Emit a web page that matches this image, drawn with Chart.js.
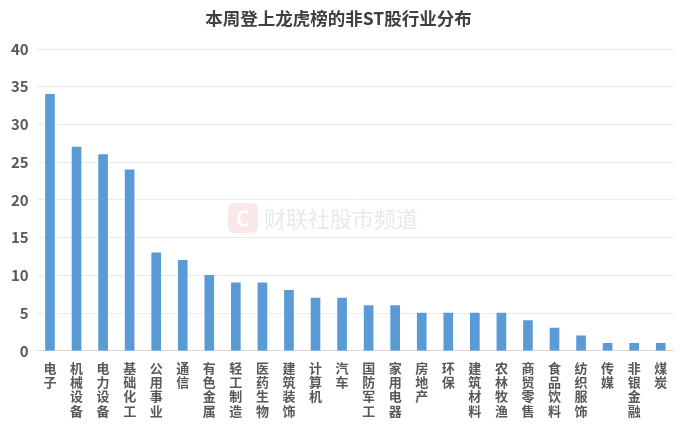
<!DOCTYPE html>
<html>
<head>
<meta charset="utf-8">
<script src="https://cdn.jsdelivr.net/npm/chart.js@4"></script>
<style>
  body { margin: 0; background: #fff; }
  #box { width: 692px; height: 430px; }
</style>
</head>
<body>
<div id="box"><canvas id="chart"></canvas></div>
<script>
const industries = ['电子', '机械设备', '电力设备', '基础化工', '公用事业', '通信', '有色金属', '轻工制造',
  '医药生物', '建筑装饰', '计算机', '汽车', '国防军工', '家用电器', '房地产', '环保',
  '建筑材料', '农林牧渔', '商贸零售', '食品饮料', '纺织服饰', '传媒', '非银金融', '煤炭'];
const counts = [34, 27, 26, 24, 13, 12, 10, 9, 9, 8, 7, 7, 6, 6, 5, 5, 5, 5, 4, 3, 2, 1, 1, 1];
const yTicks = [0, 5, 10, 15, 20, 25, 30, 35, 40];

const FONT = '"Noto Sans CJK SC", "Noto Sans", sans-serif';
const GREY = '#595959';

// faint watermark in the middle of the plot
const watermark = {
  id: 'watermark',
  beforeDatasetsDraw(chart) {
    const c = chart.ctx;
    c.save();
    c.fillStyle = 'rgba(230,120,120,0.18)';
    c.beginPath();
    c.roundRect(228, 203, 30, 30, 6);
    c.fill();
    c.fillStyle = 'rgba(255,255,255,0.9)';
    c.font = 'bold 22px ' + FONT;
    c.textAlign = 'center';
    c.textBaseline = 'middle';
    c.fillText('C', 243, 219);
    c.fillStyle = 'rgba(150,150,150,0.22)';
    c.font = '22px ' + FONT;
    c.textAlign = 'left';
    c.fillText('财联社股市频道', 264, 219);
    c.restore();
  }
};

new Chart(document.getElementById('chart'), {
  type: 'bar',
  data: {
    labels: industries.map(s => s.split('')),
    datasets: [{
      data: counts,
      backgroundColor: '#5B9BD5',
      barThickness: 9
    }]
  },
  plugins: [watermark],
  options: {
    responsive: true,
    maintainAspectRatio: false,
    animation: false,
    layout: { padding: { left: 3, right: 18, top: 0, bottom: 10 } },
    plugins: {
      legend: { display: false },
      tooltip: { enabled: false },
      title: {
        display: true,
        text: '本周登上龙虎榜的非ST股行业分布',
        color: '#404040',
        font: { family: FONT, size: 17.5, weight: 'bold' },
        padding: { top: 8, bottom: 20 }
      }
    },
    scales: {
      x: {
        grid: { display: false },
        border: { display: false },
        ticks: {
          color: GREY,
          maxRotation: 0,
          autoSkip: false,
          padding: 2,
          font: { family: FONT, size: 13, weight: 'bold', lineHeight: 1.1 }
        }
      },
      y: {
        min: 0,
        max: 40,
        afterBuildTicks: axis => { axis.ticks = yTicks.map(v => ({ value: v })); },
        grid: {
          color: ctx => ctx.tick && ctx.tick.value === 0 ? '#d9d9d9' : '#ebebeb',
          drawTicks: false
        },
        border: { display: false },
        ticks: {
          color: GREY,
          padding: 8,
          font: { family: FONT, size: 15, weight: 'bold' }
        }
      }
    }
  }
});
</script>
</body>
</html>
